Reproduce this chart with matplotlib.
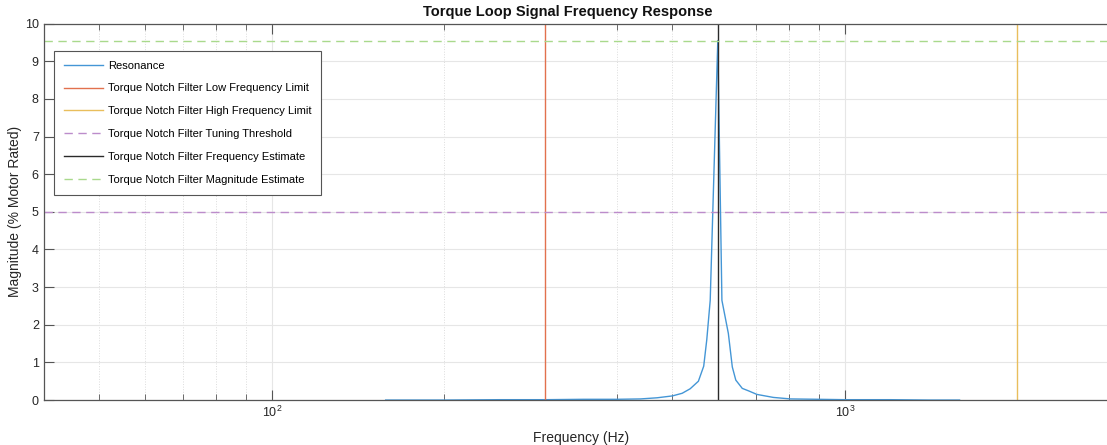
import numpy as np
import matplotlib.pyplot as plt
from matplotlib.ticker import LogLocator, NullFormatter

plt.rcParams['font.family'] = ['Liberation Sans', 'DejaVu Sans']

# resonance sweep
freq = [158, 200, 250, 300, 350, 400, 440, 470, 500, 520, 537, 555, 567, 574, 582,
        600, 610, 626, 636, 645, 662, 680, 702, 750, 803, 900, 1000, 1200, 1400, 1585]
mag = [0.0, 0.0, 0.01, 0.01, 0.02, 0.02, 0.03, 0.06, 0.11, 0.18, 0.3, 0.5, 0.9, 1.6, 2.65,
       9.55, 2.65, 1.77, 0.88, 0.53, 0.31, 0.24, 0.15, 0.07, 0.03, 0.02, 0.01, 0.01, 0.0, 0.0]

low_limit = 300
high_limit = 2000
threshold = 5
freq_est = 600
mag_est = 9.55

fig = plt.figure(figsize=(11.07, 4.45), dpi=100)
# right edge runs just past the picture, as in the reference
ax = fig.add_axes([0.0395, 0.101, 0.9708, 0.846])

ax.plot(freq, mag, color='#4496d6', lw=1.0, label='Resonance')
ax.axvline(low_limit, color='#e2714e', lw=1.0, label='Torque Notch Filter Low Frequency Limit')
ax.axvline(high_limit, color='#e9be5c', lw=1.0, label='Torque Notch Filter High Frequency Limit')
ax.axhline(threshold, color='#bc8ccb', lw=1.0, ls=(0, (6, 4)), label='Torque Notch Filter Tuning Threshold')
ax.axvline(freq_est, color='#2a2a2a', lw=1.0, label='Torque Notch Filter Frequency Estimate')
ax.axhline(mag_est, color='#a9d98c', lw=1.0, ls=(0, (6, 4)), label='Torque Notch Filter Magnitude Estimate')

ax.set_xscale('log')
ax.set_xlim(40, 3000)
ax.set_ylim(0, 10)
ax.set_yticks(range(0, 11))
ax.xaxis.set_minor_locator(LogLocator(base=10, subs=np.arange(2, 10)))
ax.xaxis.set_minor_formatter(NullFormatter())

ax.grid(True, which='major', color='#e6e6e6', lw=0.8)
ax.grid(True, which='minor', axis='x', color='#dcdcdc', lw=0.7, ls=':')
ax.set_axisbelow(True)

for s in ax.spines.values():
    s.set_color('#555555')
    s.set_linewidth(0.9)
ax.tick_params(which='both', direction='in', top=True, right=True, colors='#555555',
               labelcolor='#262626', labelsize=9)
ax.tick_params(which='major', length=7)
ax.tick_params(which='minor', length=4)

fig.text(568 / 1107, 1 - 12 / 445, 'Torque Loop Signal Frequency Response', fontsize=10.5,
         fontweight='bold', ha='center', va='center', color='#111111')
ax.set_xlabel('Frequency (Hz)', fontsize=10, color='#262626', labelpad=8)
ax.set_ylabel('Magnitude (% Motor Rated)', fontsize=10, color='#262626', labelpad=2)

leg = ax.legend(loc='upper left', bbox_to_anchor=(0.01, 0.928), fontsize=8, fancybox=False,
                edgecolor='#555555', framealpha=1, handlelength=3.5, handletextpad=0.4,
                labelspacing=1.15, borderpad=0.9, borderaxespad=0)
leg.get_frame().set_linewidth(0.8)

fig.savefig('out.png', dpi=100)
